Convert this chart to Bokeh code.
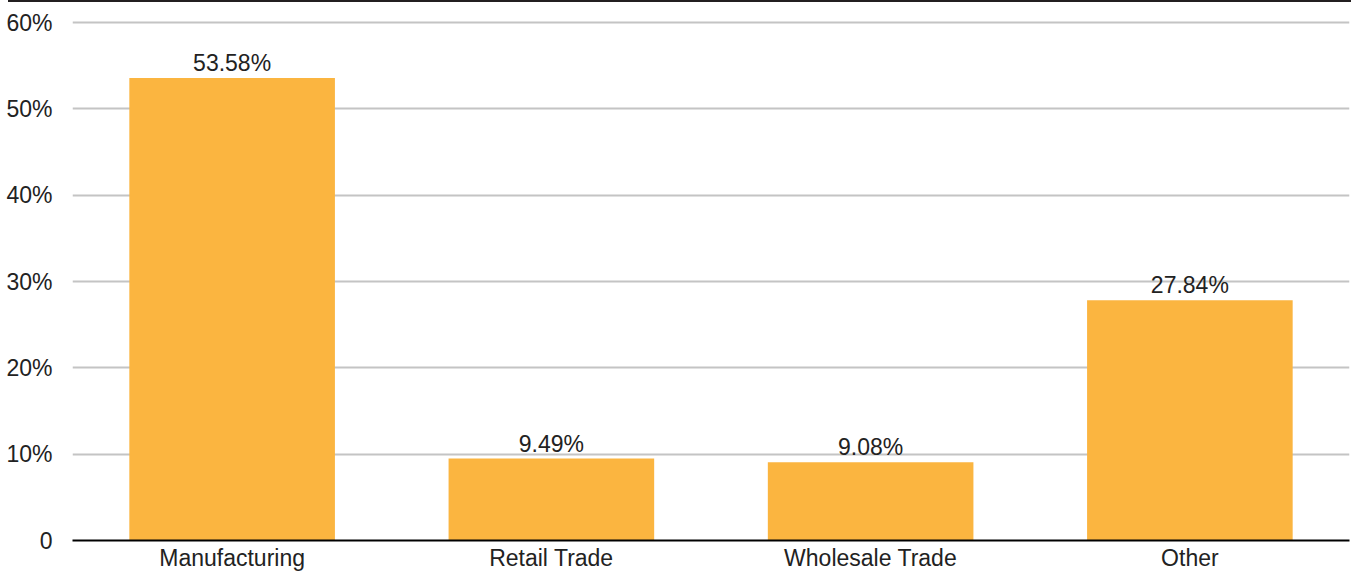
from bokeh.plotting import figure
from bokeh.models import ColumnDataSource, FixedTicker, LabelSet, Div
from bokeh.layouts import column
from bokeh.core.properties import value
from bokeh.embed import file_html
from bokeh.resources import INLINE

categories = ["Manufacturing", "Retail Trade", "Wholesale Trade", "Other"]
shares = [53.58, 9.49, 9.08, 27.84]
labels = ["53.58%", "9.49%", "9.08%", "27.84%"]
y_ticks = [0, 10, 20, 30, 40, 50, 60]
y_tick_labels = ["0", "10%", "20%", "30%", "40%", "50%", "60%"]

src = ColumnDataSource(dict(cat=categories, val=shares, lab=labels))

FONT = "Liberation Sans"
FS = "23px"

p = figure(x_range=categories, y_range=(0, 60.25), width=1351, height=571,
           output_backend="svg", toolbar_location=None,
           min_border_left=72, min_border_right=2, min_border_top=18, min_border_bottom=33)
p.outline_line_color = None
p.vbar(x="cat", top="val", width=0.644, source=src, color="#FBB540", line_color=None)

p.add_layout(LabelSet(x="cat", y="val", text="lab", source=src, text_align="center",
                      text_baseline="alphabetic", y_offset=7, text_font=value(FONT),
                      text_font_size=value(FS), text_color="#222222"))

p.yaxis.ticker = FixedTicker(ticks=y_ticks)
p.yaxis.major_label_overrides = {t: l for t, l in zip(y_ticks, y_tick_labels)}
p.yaxis.axis_line_color = None
p.yaxis.major_tick_line_color = None
p.yaxis.minor_tick_line_color = None
p.yaxis.major_label_text_font = FONT
p.yaxis.major_label_text_font_size = FS
p.yaxis.major_label_text_color = "#222222"
p.yaxis.major_label_standoff = 14

p.xaxis.axis_line_color = "black"
p.xaxis.axis_line_width = 2
p.xaxis.major_tick_line_color = None
p.xaxis.minor_tick_line_color = None
p.xaxis.major_label_text_font = FONT
p.xaxis.major_label_text_font_size = FS
p.xaxis.major_label_text_color = "#222222"
p.xaxis.major_label_standoff = -2

p.xgrid.grid_line_color = None
p.ygrid.grid_line_color = "#C4C4C4"
p.ygrid.grid_line_width = 2
p.ygrid.ticker = FixedTicker(ticks=y_ticks[1:])

top_rule = Div(text="", width=1343, height=2, margin=(0, 0, 0, 8),
               styles={"background-color": "#231F20"})

layout = column(top_rule, p, spacing=0)

open("out.html", "w").write(file_html(layout, INLINE))
